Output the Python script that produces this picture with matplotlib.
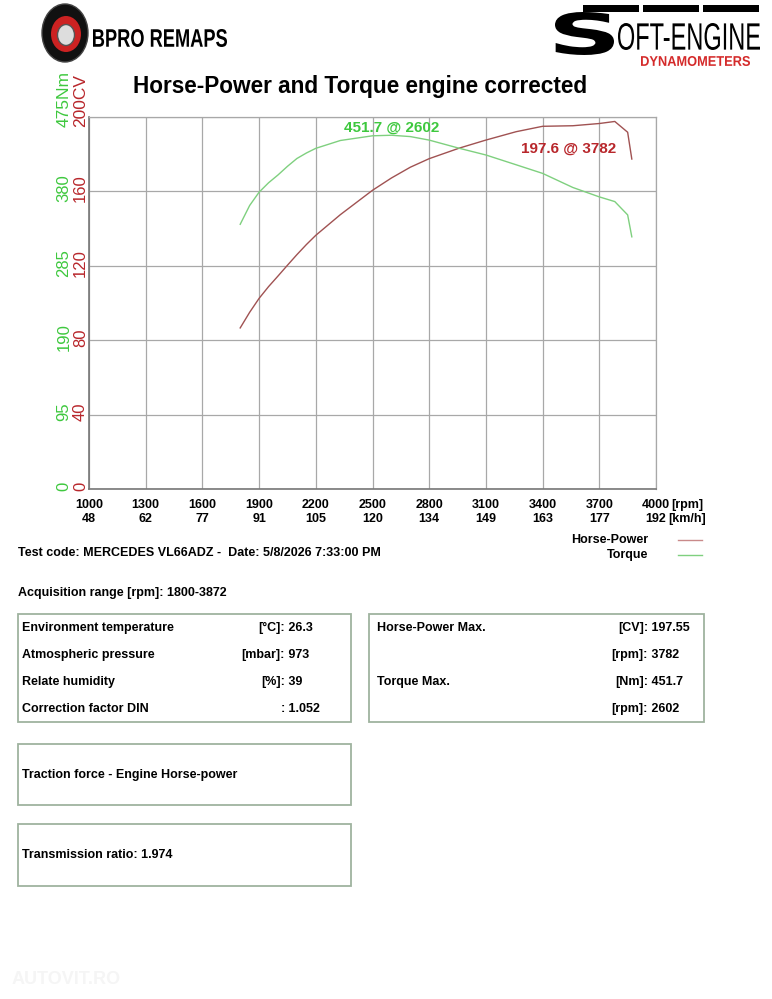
import matplotlib
matplotlib.use('Agg')
import matplotlib.pyplot as plt
from matplotlib.patches import Rectangle, Ellipse, PathPatch
from matplotlib.textpath import TextPath
from matplotlib.font_manager import FontProperties
from matplotlib.transforms import blended_transform_factory, Affine2D

plt.rcParams['font.family'] = ['Liberation Sans', 'DejaVu Sans']

# data read from the dyno sheet
rpm = [1800, 1850, 1900, 1950, 2000, 2050, 2100, 2150, 2200, 2330, 2500, 2600, 2700,
       2800, 2960, 3100, 3260, 3400, 3560, 3700, 3782, 3850, 3872]
power_cv = [86.6, 95.0, 102.5, 108.8, 114.5, 120.3, 126.0, 131.4, 136.4, 147.5, 160.6,
            167.2, 173.0, 177.6, 183.3, 187.6, 192.1, 195.0, 195.3, 196.5, 197.6,
            191.8, 177.4]
torque_nm = [338, 362, 379, 391, 401, 412, 422, 429, 435, 445, 451, 451.7, 450,
             445.5, 435, 426.5, 414, 403, 385, 373, 367, 350, 322]

rpm_ticks = [1000, 1300, 1600, 1900, 2200, 2500, 2800, 3100, 3400, 3700, 4000]
kmh_ticks = [48, 62, 77, 91, 105, 120, 134, 149, 163, 177, 192]
cv_ticks = [0, 40, 80, 120, 160]
nm_ticks = [0, 95, 190, 285, 380]

env_rows = [('Environment temperature', '[°C]:', ' 26.3'),
            ('Atmospheric pressure', '[mbar]:', ' 973'),
            ('Relate humidity', '[%]:', ' 39'),
            ('Correction factor DIN', ':', ' 1.052')]
max_rows = [('Horse-Power Max.', '[CV]:', ' 197.55'),
            ('', '[rpm]:', ' 3782'),
            ('Torque Max.', '[Nm]:', ' 451.7'),
            ('', '[rpm]:', ' 2602')]

W, H = 772, 999
fig = plt.figure(figsize=(W / 100, H / 100), dpi=100)

def fx(px):
    return px / W

def fy(py):
    return 1 - py / H

green_txt = '#3ec83e'
red_txt = '#b8262b'
green_line = '#7fd07f'
red_line = '#a05252'
grid_c = '#a8a8a8'
box_c = '#9fb39f'

# main chart
ax = fig.add_axes([fx(89), fy(489), fx(656) - fx(89), fy(117) - fy(489)])
ax.set_xlim(1000, 4000)
ax.set_ylim(0, 200)
ax.set_xticks(rpm_ticks)
ax.set_yticks(cv_ticks + [200])
ax.grid(True, color=grid_c, linewidth=0.9)
ax.tick_params(length=0, labelbottom=False, labelleft=False)
for s in ['top', 'right']:
    ax.spines[s].set_color(grid_c)
    ax.spines[s].set_linewidth(0.9)
for s in ['left', 'bottom']:
    ax.spines[s].set_color('#777777')
    ax.spines[s].set_linewidth(1.2)
ax.plot(rpm, power_cv, color=red_line, linewidth=1.0)

ax2 = ax.twinx()
ax2.set_ylim(0, 475)
ax2.axis('off')
ax2.plot(rpm, torque_nm, color=green_line, linewidth=1.0)

ax.text(2602, 194.3, '451.7 @ 2602', color=green_txt, fontsize=11,
        fontweight='bold', ha='center', va='center')
ax.text(3540, 182.8, '197.6 @ 3782', color=red_txt, fontsize=11,
        fontweight='bold', ha='center', va='center')

# y labels
tr = blended_transform_factory(fig.transFigure, ax.transData)
for cv, nm in zip(cv_ticks, nm_ticks):
    ax.text(fx(64), cv + 1.5, str(nm), transform=tr, rotation=90, color=green_txt,
            fontsize=12, ha='center', va='center')
    ax.text(fx(80.5), cv + 1.5, str(cv), transform=tr, rotation=90, color=red_txt,
            fontsize=12, ha='center', va='center')
ax.text(fx(64), 194.6, '475Nm', transform=tr, rotation=90, color=green_txt,
        fontsize=12.5, ha='center', va='bottom')
ax.text(fx(80.5), 194.6, '200CV', transform=tr, rotation=90, color=red_txt,
        fontsize=12.5, ha='center', va='bottom')

# x labels
trx = blended_transform_factory(ax.transData, fig.transFigure)
for r, k in zip(rpm_ticks, kmh_ticks):
    ax.text(r, fy(505), str(r), transform=trx, fontsize=9, fontweight='bold',
            ha='center', va='center')
    ax.text(r, fy(519), str(k), transform=trx, fontsize=9, fontweight='bold',
            ha='center', va='center')
fig.text(fx(671), fy(505), '[rpm]', fontsize=9, fontweight='bold', va='center')
fig.text(fx(668), fy(519), '[km/h]', fontsize=9, fontweight='bold', va='center')

# title
fig.text(fx(360), fy(86), 'Horse-Power and Torque engine corrected', fontsize=16.3,
         fontweight='bold', ha='center', va='center')

# legend
fig.text(fx(648), fy(540), 'Horse-Power', fontsize=9, fontweight='bold', ha='right', va='center')
fig.text(fx(648), fy(555), 'Torque', fontsize=9, fontweight='bold', ha='right', va='center')
fig.add_artist(plt.Line2D([fx(678), fx(702)], [fy(540), fy(540)], color='#c98a8a', linewidth=1))
fig.add_artist(plt.Line2D([fx(678), fx(702)], [fy(555), fy(555)], color=green_line, linewidth=1))

fig.text(fx(18), fy(553), 'Test code: MERCEDES VL66ADZ -  Date: 5/8/2026 7:33:00 PM',
         fontsize=9, fontweight='bold', va='center')
fig.text(fx(18), fy(593), 'Acquisition range [rpm]: 1800-3872',
         fontsize=9, fontweight='bold', va='center')

# info boxes
def box(x0, y0, x1, y1):
    fig.add_artist(Rectangle((fx(x0), fy(y1)), fx(x1) - fx(x0), fy(y0) - fy(y1),
                             transform=fig.transFigure, fill=False,
                             edgecolor=box_c, linewidth=1.3))

box(18, 614, 351, 722)
box(369, 614, 704, 722)
box(18, 744, 351, 805)
box(18, 824, 351, 886)

row_y = [628, 655, 682, 709]
for (lab, unit, val), y in zip(env_rows, row_y):
    fig.text(fx(22), fy(y), lab, fontsize=9, fontweight='bold', va='center')
    fig.text(fx(285), fy(y), unit, fontsize=9, fontweight='bold', va='center', ha='right')
    fig.text(fx(285), fy(y), val, fontsize=9, fontweight='bold', va='center')
for (lab, unit, val), y in zip(max_rows, row_y):
    fig.text(fx(377), fy(y), lab, fontsize=9, fontweight='bold', va='center')
    fig.text(fx(648), fy(y), unit, fontsize=9, fontweight='bold', va='center', ha='right')
    fig.text(fx(648), fy(y), val, fontsize=9, fontweight='bold', va='center')

fig.text(fx(22), fy(775), 'Traction force - Engine Horse-power', fontsize=9,
         fontweight='bold', va='center')
fig.text(fx(22), fy(855), 'Transmission ratio: 1.974', fontsize=9,
         fontweight='bold', va='center')


# logo text squeezed into a pixel box (left, top, right, bottom)
def fit_text(s, x0, y0, x1, y1, color='black', weight='bold', family='Liberation Sans'):
    path = TextPath((0, 0), s, size=10, prop=FontProperties(family=family, weight=weight))
    ext = path.get_extents()
    sx = (x1 - x0) / ext.width
    sy = (y1 - y0) / ext.height
    t = (Affine2D().translate(-ext.x0, -ext.y0).scale(sx / W, sy / H)
         .translate(fx(x0), fy(y1)) + fig.transFigure)
    fig.add_artist(PathPatch(path, transform=t, facecolor=color, edgecolor='none'))


# BPRO logo
fig.add_artist(Ellipse((fx(65), fy(33)), 46 / W, 58 / H, transform=fig.transFigure,
                       facecolor='#111111', edgecolor='#444444'))
fig.add_artist(Ellipse((fx(66), fy(34)), 30 / W, 36 / H, transform=fig.transFigure,
                       facecolor='#cc2222', edgecolor='none'))
fig.add_artist(Ellipse((fx(66), fy(35)), 17 / W, 21 / H, transform=fig.transFigure,
                       facecolor='#dddddd', edgecolor='#555555'))
fit_text('BPRO REMAPS', 93, 29, 227, 47)

# Soft-Engine logo
for x0 in [583, 643, 703]:
    fig.add_artist(Rectangle((fx(x0), fy(12)), 56 / W, 7 / H, transform=fig.transFigure,
                             facecolor='black', edgecolor='none'))
fit_text('S', 555, 12, 614, 55, weight='heavy', family='DejaVu Sans')
fit_text('OFT-ENGINE', 618, 23, 760, 50, weight='normal')
fit_text('DYNAMOMETERS', 641, 56, 750, 66, color='#d42a2a')

# faint watermark
fig.text(fx(12), fy(980), 'AUTOVIT.RO', fontsize=13, fontweight='bold',
         color='#f5f5f5', va='center')

fig.savefig('out.png', dpi=100)
